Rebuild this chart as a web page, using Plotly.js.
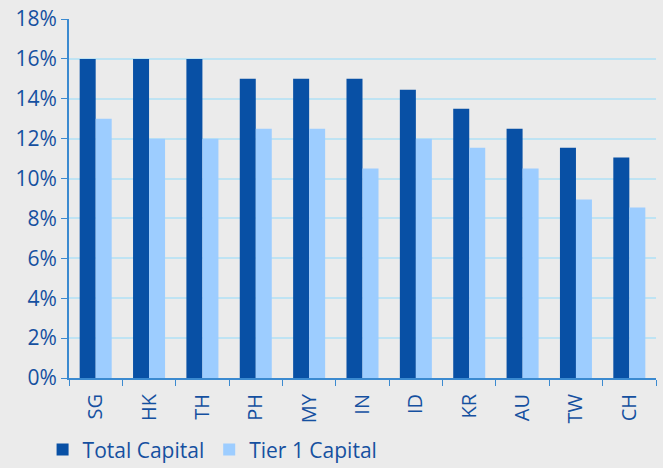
<!DOCTYPE html>
<html><head><meta charset="utf-8">
<script src="https://cdn.plot.ly/plotly-3.0.1.min.js"></script>
<style>html,body{margin:0;padding:0;background:#EBEBEB;}#c{width:663px;height:468px;}</style>
</head><body><div id="c"></div>
<script>
const categories = ["SG","HK","TH","PH","MY","IN","ID","KR","AU","TW","CH"];
const totalCapital = [16, 16, 16, 15, 15, 15, 14.45, 13.5, 12.5, 11.55, 11.05];
const tier1Capital = [13, 12, 12, 12.5, 12.5, 10.5, 12, 11.55, 10.5, 8.95, 8.55];
const yTickVals = [0,2,4,6,8,10,12,14,16,18];
const yTickText = yTickVals.map(v => v + "%");

const txtColor = "#1550A0";
const data = [
  {type:"bar", name:"Total Capital", x:categories, y:totalCapital, marker:{color:"#0850A5"}},
  {type:"bar", name:"Tier 1 Capital", x:categories, y:tier1Capital, marker:{color:"#9DCDFF"}}
];
const layout = {
  width:663, height:468,
  paper_bgcolor:"#EBEBEB", plot_bgcolor:"#EBEBEB",
  margin:{l:69, r:7, t:19, b:90, autoexpand:false},
  barmode:"group", bargap:0.4, bargroupgap:0,
  font:{family:"Open Sans, sans-serif", color:txtColor},
  showlegend:true,
  legend:{orientation:"h", x:-0.045, xanchor:"left", y:-0.2, yanchor:"middle", font:{size:21, color:txtColor}, itemwidth:30, tracegroupgap:0, bgcolor:"rgba(0,0,0,0)"},
  xaxis:{type:"category", automargin:false, showline:true, linecolor:"#3B8AD0", linewidth:2, ticks:"outside", tickson:"boundaries", ticklen:6, tickcolor:"#3B8AD0", tickangle:-90, ticklabelstandoff:6, tickfont:{size:20, color:txtColor}, showgrid:false, zeroline:false},
  yaxis:{automargin:false, range:[0,18], tickvals:yTickVals, ticktext:yTickText, showline:true, linecolor:"#3B8AD0", linewidth:2, ticks:"outside", ticklen:6, tickcolor:"#3B8AD0", tickfont:{size:21, color:txtColor}, gridcolor:"#BEE3F3", gridwidth:1.5, zeroline:false}
};
Plotly.newPlot("c", data, layout, {displayModeBar:false});
</script></body></html>
